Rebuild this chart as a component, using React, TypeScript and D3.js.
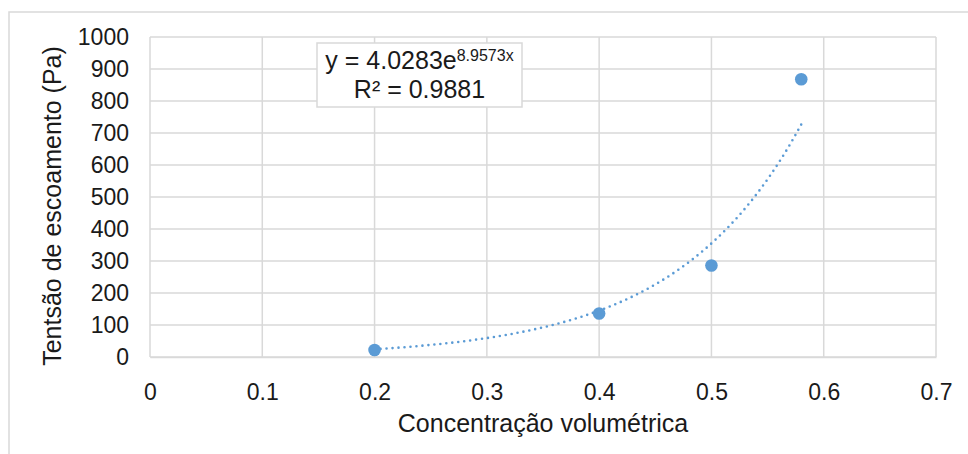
import * as d3 from 'd3';
import { useEffect, useRef } from 'react';

// pontos medidos
const concentracao = [0.2, 0.4, 0.5, 0.58];
const tensao = [22, 136, 286, 868];

// linha de tendência exponencial (Excel): y = A * e^(B x)
const trendA = 4.0283;
const trendB = 8.9573;
const trendR2 = 0.9881;

const xTicks = [0, 0.1, 0.2, 0.3, 0.4, 0.5, 0.6, 0.7];
const yTicks = [0, 100, 200, 300, 400, 500, 600, 700, 800, 900, 1000];

const xTitle = 'Concentração volumétrica';
const yTitle = 'Tentsão de escoamento (Pa)';

export default function App() {
    const chartRef = useRef<SVGSVGElement | null>(null);

    useEffect(() => {
        if (!chartRef.current) return;
        d3.select(chartRef.current).selectAll('*').remove();

        const svg = d3.select(chartRef.current);
        const width = 968;
        const height = 454;
        const margin = { top: 37, right: 32, bottom: 97, left: 150 };
        const font = '"Liberation Sans", Arial, sans-serif';
        const grid = '#d9d9d9';
        const blue = '#5b9bd5';
        const ink = '#1a1a1a';

        svg.attr('viewBox', `0 0 ${width} ${height}`);

        // moldura do gráfico
        svg.append('rect')
            .attr('x', 9)
            .attr('y', 12)
            .attr('width', width)
            .attr('height', height)
            .attr('fill', '#fff')
            .attr('stroke', grid)
            .attr('stroke-width', 1.5);

        const x = d3
            .scaleLinear()
            .domain([0, 0.7])
            .range([margin.left, width - margin.right]);

        const y = d3
            .scaleLinear()
            .domain([0, 1000])
            .range([height - margin.bottom, margin.top]);

        // grade
        const g = svg.append('g');
        g.selectAll('line.h')
            .data(yTicks)
            .join('line')
            .attr('class', 'h')
            .attr('x1', x(0))
            .attr('x2', x(0.7))
            .attr('y1', (d) => y(d))
            .attr('y2', (d) => y(d))
            .attr('stroke', grid)
            .attr('stroke-width', 1.5);
        g.selectAll('line.v')
            .data(xTicks)
            .join('line')
            .attr('class', 'v')
            .attr('x1', (d) => x(d))
            .attr('x2', (d) => x(d))
            .attr('y1', y(0))
            .attr('y2', y(1000))
            .attr('stroke', grid)
            .attr('stroke-width', 1.5);

        // eixos
        const xAxis = d3
            .axisBottom(x)
            .tickValues(xTicks)
            .tickFormat((d) => String(d))
            .tickSizeInner(0)
            .tickSizeOuter(0)
            .tickPadding(27);
        svg.append('g')
            .attr('transform', `translate(0,${y(0)})`)
            .call(xAxis)
            .call((s) => s.select('.domain').attr('stroke', grid).attr('stroke-width', 1.5))
            .selectAll('text')
            .attr('fill', ink)
            .style('font-family', font)
            .style('font-size', '23px');

        const yAxis = d3
            .axisLeft(y)
            .tickValues(yTicks)
            .tickFormat((d) => String(d))
            .tickSizeInner(0)
            .tickSizeOuter(0)
            .tickPadding(21);
        svg.append('g')
            .attr('transform', `translate(${x(0)},0)`)
            .call(yAxis)
            .call((s) => s.select('.domain').remove())
            .selectAll('text')
            .attr('fill', ink)
            .style('font-family', font)
            .style('font-size', '23px');

        // títulos
        svg.append('text')
            .attr('x', 543)
            .attr('y', 432)
            .attr('text-anchor', 'middle')
            .attr('fill', ink)
            .style('font-family', font)
            .style('font-size', '25px')
            .text(xTitle);

        svg.append('text')
            .attr('transform', `translate(61,${206}) rotate(-90)`)
            .attr('text-anchor', 'middle')
            .attr('fill', ink)
            .style('font-family', font)
            .style('font-size', '25px')
            .text(yTitle);

        // linha de tendência
        const x0 = d3.min(concentracao)!;
        const x1 = d3.max(concentracao)!;
        const trend = d3.range(0, 101).map((i) => {
            const cx = x0 + ((x1 - x0) * i) / 100;
            return [cx, trendA * Math.exp(trendB * cx)] as [number, number];
        });
        svg.append('path')
            .datum(trend)
            .attr('fill', 'none')
            .attr('stroke', blue)
            .attr('stroke-width', 2.6)
            .attr('stroke-linecap', 'round')
            .attr('stroke-dasharray', '0 6')
            .attr(
                'd',
                d3
                    .line<[number, number]>()
                    .x((d) => x(d[0]))
                    .y((d) => y(d[1]))
                    .curve(d3.curveMonotoneX)
            );

        // pontos
        svg.append('g')
            .selectAll('circle')
            .data(concentracao.map((c, i) => ({ c, t: tensao[i] })))
            .join('circle')
            .attr('cx', (d) => x(d.c))
            .attr('cy', (d) => y(d.t))
            .attr('r', 6.3)
            .attr('fill', blue);

        // caixa da equação
        const box = svg.append('g').attr('transform', 'translate(317,43)');
        box.append('rect')
            .attr('width', 205)
            .attr('height', 64)
            .attr('fill', '#fff')
            .attr('stroke', grid)
            .attr('stroke-width', 1.5);
        const eq = box
            .append('text')
            .attr('x', 102.5)
            .attr('y', 26)
            .attr('text-anchor', 'middle')
            .attr('fill', ink)
            .style('font-family', font)
            .style('font-size', '25px');
        eq.append('tspan').text(`y = ${trendA}e`);
        eq.append('tspan')
            .attr('dy', -8)
            .style('font-size', '16px')
            .text(`${trendB}x`);
        box.append('text')
            .attr('x', 102.5)
            .attr('y', 55)
            .attr('text-anchor', 'middle')
            .attr('fill', ink)
            .style('font-family', font)
            .style('font-size', '25px')
            .text(`R² = ${trendR2}`);
    }, []);

    return (
        <svg
            ref={chartRef}
            width={968}
            height={454}
            style={{ position: 'absolute', left: 0, top: 0, background: '#fff' }}
        />
    );
}
